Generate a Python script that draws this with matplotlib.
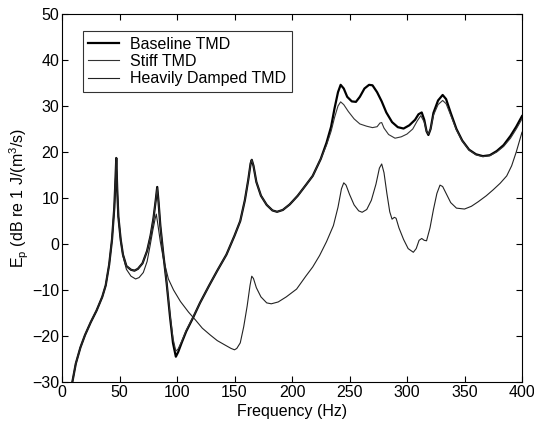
import matplotlib
matplotlib.use('Agg')
import matplotlib.pyplot as plt

plt.rcParams['font.family'] = ['Liberation Sans', 'DejaVu Sans']
plt.rcParams['mathtext.default'] = 'regular'

# shared low-frequency part (all three TMDs agree below ~50 Hz)
low_f = [9, 12, 16, 20, 25, 30, 35, 38, 41, 43.5, 45.5, 46.5, 47.2, 48, 49, 51]
low_e = [-30, -26, -22.5, -19.8, -17, -14.5, -11.5, -9, -4.5, 1, 8, 14, 18.7, 12, 6, 1]

# baseline / stiff shared part, 53 - 228 Hz
mid_f = [53, 56, 60, 63, 66, 70, 74, 77, 79.5, 81.5, 82.8, 84, 85.5, 88, 91, 94,
         96.5, 99, 101, 104, 108, 114, 120, 128, 135, 143, 150, 155, 159, 162,
         164, 165, 166.5, 169, 173, 178, 183, 187, 192, 198, 205, 212, 218, 225]
mid_e = [-2.3, -4.8, -5.6, -5.8, -5.4, -4.2, -1.5, 1.8, 5.5, 9.5, 12.4, 9, 4, -2,
         -8.5, -16, -21.5, -24.5, -23.5, -21.5, -19, -16, -12.8, -9, -5.8, -2.3,
         1.8, 5, 9.5, 14, 17.5, 18.3, 17, 13.5, 10.5, 8.5, 7.3, 7, 7.4, 8.6, 10.5,
         12.8, 14.8, 18.5]

base_hi_f = [230, 234, 237, 240, 242.3, 245, 248, 252, 255.6, 259, 263, 267, 270,
             274, 278, 282, 287, 292, 297, 302, 307, 310, 312.8, 315, 317, 318.6,
             320.5, 323, 327, 331, 334, 338, 343, 348, 354, 360, 366, 372, 378,
             384, 390, 395, 400]
base_hi_e = [22, 25.5, 29.5, 33, 34.6, 33.8, 32, 31, 30.9, 32, 33.8, 34.6, 34.5,
             33, 31, 28.6, 26.5, 25.4, 25.1, 25.8, 27, 28.2, 28.6, 27, 24.5, 23.7,
             25, 28.5, 31.2, 32.4, 31.5, 28.5, 25, 22.5, 20.5, 19.5, 19.1, 19.3,
             20.2, 21.5, 23.5, 25.5, 27.8]

stiff_mid_e = [-2.3, -4.8, -5.6, -5.8, -5.4, -4.2, -1.5, 1.8, 5.5, 9.5, 12.2, 9, 4,
               -2, -8.5, -15.5, -20.5, -23.3, -22.8, -21.2, -18.8, -15.9, -12.8,
               -9, -5.8, -2.3, 1.8, 5, 9.5, 14, 17.5, 18.3, 17, 13.5, 10.5, 8.5,
               7.3, 7, 7.4, 8.6, 10.5, 12.8, 14.8, 18.5]
stiff_hi_f = [230, 234, 237, 240, 242.3, 245, 249, 254, 259, 265, 270, 274, 276.5,
              278, 280, 284, 289.6, 295, 300, 305, 309, 312, 315, 317, 318.6, 320.5,
              323, 327, 331, 334, 338, 343, 348, 354, 360, 366, 372, 378, 384, 390,
              395, 400]
stiff_hi_e = [21.5, 24.5, 27.5, 30, 30.9, 30.3, 28.8, 27.2, 26.1, 25.6, 25.3, 25.5,
              26.3, 26.4, 25.2, 23.8, 23.0, 23.3, 23.9, 25, 26.8, 27.9, 26.5, 24.5,
              23.9, 25, 28, 30.3, 31.2, 30.5, 28, 24.8, 22.4, 20.4, 19.4, 19.0, 19.2,
              20.0, 21.2, 23, 25, 27.2]

damp_f = [53, 56, 60, 64, 67, 70.7, 74, 76.5, 79, 81, 82, 83.5, 85.5, 88, 92.5, 97,
          103, 110, 116, 122, 129, 135, 142, 147, 150, 152, 155, 158, 161, 163.5,
          165, 166.5, 169, 173, 178, 182, 188, 195, 204, 212, 218, 224, 230, 236,
          240, 243, 245, 247, 250, 254, 258, 261, 265, 269, 273, 276, 278, 280,
          282.5, 285, 287, 289, 290.5, 293, 297, 301, 305.5, 308, 310.5, 312.8,
          315, 317, 320, 323, 326, 328.7, 331, 334, 338, 343, 350, 356, 362, 369,
          375, 381, 386.7, 391, 395, 400]
damp_e = [-2.6, -5.5, -7, -7.6, -7.3, -6.2, -3.8, -0.5, 3, 5.5, 6.5, 4, 0.5, -3,
          -7.6, -10, -12.5, -14.8, -16.5, -18.3, -19.8, -21, -22, -22.7, -23,
          -22.7, -21.5, -18, -13.5, -9, -7, -7.5, -9.5, -11.5, -12.8, -13, -12.6,
          -11.5, -9.8, -7, -5, -2.5, 0.5, 4, 8, 12, 13.3, 12.8, 10.8, 8.5, 7.2,
          6.9, 7.5, 9.5, 13, 16.5, 17.4, 15.5, 11, 7, 5.4, 5.8, 5.6, 3.5, 1, -1,
          -1.8, -1, 0.8, 1.2, 0.8, 0.7, 3.5, 7.5, 11, 12.8, 12.5, 11, 9, 7.8, 7.6,
          8.2, 9.2, 10.5, 11.8, 13.2, 14.8, 17, 20, 24.3]

x_ticks = [0, 50, 100, 150, 200, 250, 300, 350, 400]
y_ticks = [-30, -20, -10, 0, 10, 20, 30, 40, 50]

fig = plt.figure(figsize=(5.34, 4.30), dpi=100)
ax = fig.add_axes([62 / 534, 1 - 382 / 430, 460 / 534, 368 / 430])

ax.plot(low_f + mid_f + base_hi_f, low_e + mid_e + base_hi_e,
        color='black', lw=1.6, label='Baseline TMD')
ax.plot(low_f + mid_f + stiff_hi_f, low_e + stiff_mid_e + stiff_hi_e,
        color='#333333', lw=0.8, label='Stiff TMD')
ax.plot(low_f + damp_f, low_e + damp_e,
        color='#222222', lw=0.8, label='Heavily Damped TMD')

ax.set_xlim(0, 400)
ax.set_ylim(-30, 50)
ax.set_xticks(x_ticks)
ax.set_yticks(y_ticks)
ax.tick_params(direction='in', top=True, right=True, labelsize=11.5, length=4,
               pad=2)
ax.set_xlabel('Frequency (Hz)', fontsize=11.5, labelpad=3)
ax.set_ylabel('E$_p$ (dB re 1 J/(m$^3$/s)', fontsize=11.5, labelpad=1)

leg = ax.legend(loc='upper left', bbox_to_anchor=(0.045, 0.954), fontsize=11.5,
                frameon=True, fancybox=False, edgecolor='black',
                borderaxespad=0, handlelength=1.9, handletextpad=0.7,
                borderpad=0.35, labelspacing=0.15)
leg.get_frame().set_linewidth(0.8)

fig.savefig('out.png', dpi=100)
